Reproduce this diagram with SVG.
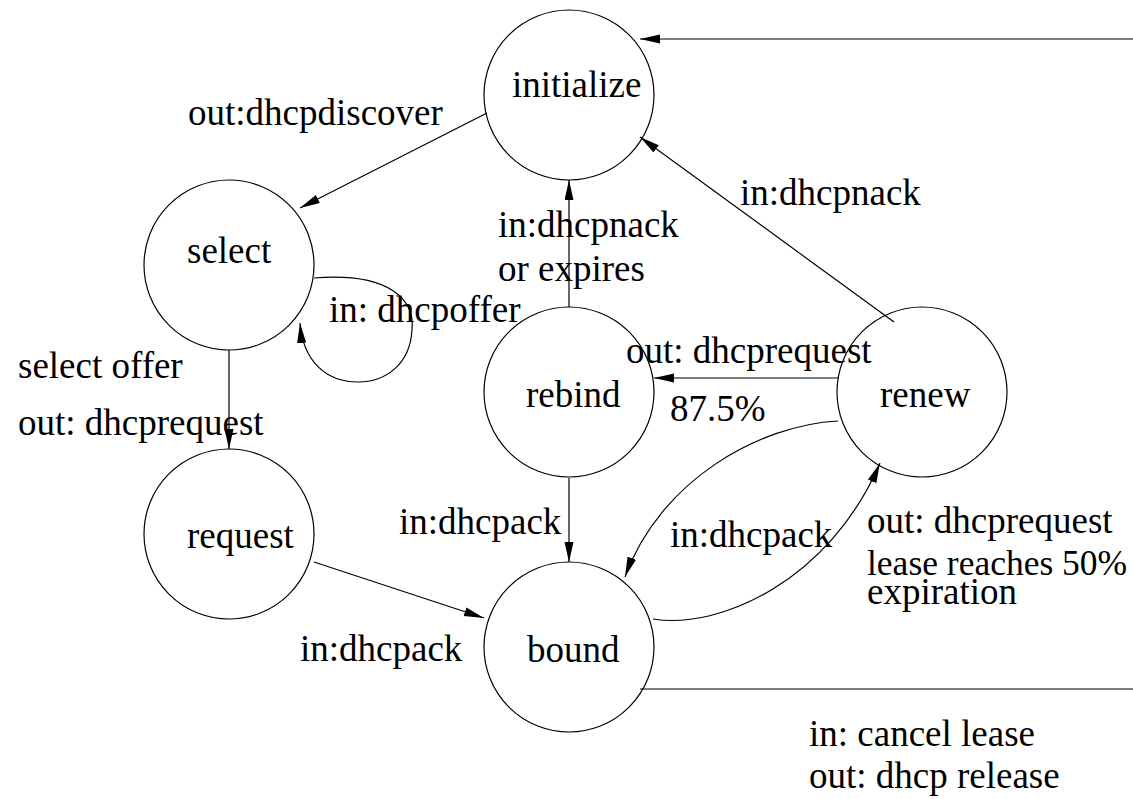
<svg xmlns="http://www.w3.org/2000/svg" width="1133" height="799" viewBox="0 0 1133 799" font-family="'Liberation Serif', 'Times New Roman', serif" font-size="37">
<style>
.n{fill:none;stroke:#000;stroke-width:1.2}
.c{fill:none;stroke:#000;stroke-width:1.2}
.t{font-family:'Liberation Serif','Times New Roman',serif;font-size:37px;fill:#000}
</style>
<defs>
<marker id="ah" markerUnits="userSpaceOnUse" markerWidth="22" markerHeight="12" refX="20" refY="4.5" orient="auto">
<path d="M0,0 L20,4.5 L0,9 z" fill="#000"/>
</marker>
</defs>
<rect width="1133" height="799" fill="#fff"/>
<g id="connectors">
<path class="c" d="M1133,39 L640,39" marker-end="url(#ah)"/>
<path class="c" d="M1133,689 L640,689"/>
<path class="c" d="M487,113 L300,208" marker-end="url(#ah)"/>
<path class="c" d="M569,307 L569,180" marker-end="url(#ah)"/>
<path class="c" d="M894,322 L640,137" marker-end="url(#ah)"/>
<path class="c" d="M314,278 C390,272 415,300 412,330 C410,365 385,382 358,382 C325,382 303,360 300,323" marker-end="url(#ah)"/>
<path class="c" d="M229,350 L229,449" marker-end="url(#ah)"/>
<path class="c" d="M314,562 L484,618" marker-end="url(#ah)"/>
<path class="c" d="M838,378 L654,378" marker-end="url(#ah)"/>
<path class="c" d="M569,478 L569,562" marker-end="url(#ah)"/>
<path class="c" d="M838,421 C760,425 660,480 625,577" marker-end="url(#ah)"/>
<path class="c" d="M653,619 C720,630 830,580 880,463" marker-end="url(#ah)"/>
</g>
<g id="initialize"><ellipse class="n" cx="569" cy="95" rx="85" ry="85"/><text class="t" x="512" y="97">initialize</text></g>
<g id="select"><ellipse class="n" cx="229" cy="265" rx="85" ry="85"/><text class="t" x="187" y="263">select</text></g>
<g id="request"><ellipse class="n" cx="229" cy="534" rx="85" ry="85"/><text class="t" x="187" y="548">request</text></g>
<g id="rebind"><ellipse class="n" cx="569" cy="392" rx="85" ry="85"/><text class="t" x="526" y="407">rebind</text></g>
<g id="renew"><ellipse class="n" cx="922" cy="392" rx="85" ry="85"/><text class="t" x="880" y="407">renew</text></g>
<g id="bound"><ellipse class="n" cx="569" cy="647" rx="85" ry="85"/><text class="t" x="527" y="662">bound</text></g>
<g id="labels">
<text class="t" x="188" y="125">out:dhcpdiscover</text>
<text class="t" x="740" y="205">in:dhcpnack</text>
<text class="t" x="498" y="237">in:dhcpnack</text>
<text class="t" x="498" y="281">or expires</text>
<text class="t" x="329" y="322">in: dhcpoffer</text>
<text class="t" x="18" y="378">select offer</text>
<text class="t" x="18" y="435">out: dhcprequest</text>
<text class="t" x="626" y="363">out: dhcprequest</text>
<text class="t" x="670" y="421">87.5%</text>
<text class="t" x="399" y="534">in:dhcpack</text>
<text class="t" x="670" y="547">in:dhcpack</text>
<text class="t" x="867" y="533">out: dhcprequest</text>
<text class="t" x="867" y="575" style="font-size:35.5px">lease reaches 50%</text>
<text class="t" x="867" y="604">expiration</text>
<text class="t" x="300" y="661">in:dhcpack</text>
<text class="t" x="809" y="746">in: cancel lease</text>
<text class="t" x="809" y="788">out: dhcp release</text>
</g>
</svg>
